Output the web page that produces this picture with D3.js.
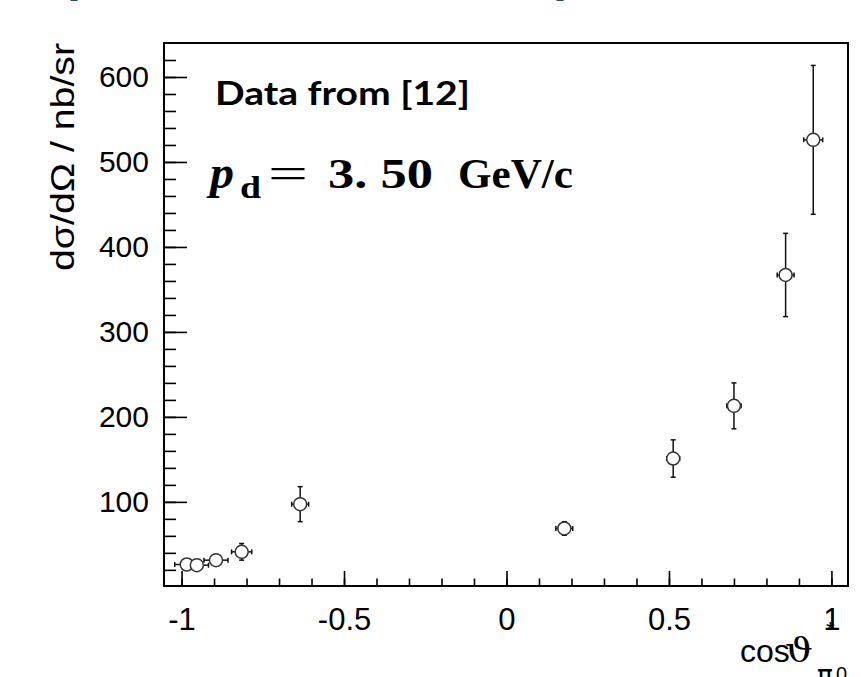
<!DOCTYPE html>
<html>
<head>
<meta charset="utf-8">
<script src="https://cdn.jsdelivr.net/npm/d3@7"></script>
<style>
  body { margin: 0; background: #fff; }
  svg { display: block; }
  .tick text { font-family: "Liberation Sans", Arial, sans-serif; }
</style>
</head>
<body>
<div id="chart"></div>
<script>
// cos(theta*) of the pi0, cross section in nb/sr, errors
const cosTheta = [-0.984, -0.953, -0.894, -0.815, -0.635, 0.178, 0.513, 0.700, 0.859, 0.944]
const xSigma   = [26.3, 25.5, 31.4, 41.2, 97.3, 68.7, 151, 213, 367, 526]
const xErrCos  = [0.037, 0.036, 0.037, 0.031, 0.026, 0.026, 0.020, 0.022, 0.026, 0.029]
const yErr     = [4, 4, 5, 9.8, 20.6, 8, 22, 27, 49, 87.6]

const xMajorTicks = [-1, -0.5, 0, 0.5, 1]
const xMinorTicks = d3.range(-10, 11).map(d => d / 10)
const yMajorTicks = [100, 200, 300, 400, 500, 600]
const yMinorTicks = d3.range(20, 640, 20)

const W = 861, H = 677
const frame = { left: 164, right: 848, top: 43, bottom: 586 }

const svg = d3.select('#chart').append('svg')
  .attr('width', W)
  .attr('height', H)

const x = d3.scaleLinear().domain([-1.054, 1.051]).range([frame.left, frame.right])
const y = d3.scaleLinear().domain([1, 640]).range([frame.bottom, frame.top])

// cut-off titles from the slide above
svg.selectAll('.cut')
  .data([55, 541])
  .enter().append('text')
  .attr('x', d => d)
  .attr('y', -7)
  .style('font-family', '"DejaVu Serif", serif')
  .style('font-style', 'italic')
  .style('font-weight', 'bold')
  .style('font-size', '40px')
  .style('fill', '#13566f')
  .text('η')

// minor ticks
svg.append('g')
  .attr('transform', `translate(0,${frame.bottom})`)
  .call(d3.axisBottom(x).tickValues(xMinorTicks).tickSize(-7.5).tickFormat(''))
  .call(g => g.select('.domain').remove())
svg.append('g')
  .attr('transform', `translate(${frame.left},0)`)
  .call(d3.axisLeft(y).tickValues(yMinorTicks).tickSize(-12).tickFormat(''))
  .call(g => g.select('.domain').remove())

// major ticks + labels
const xAxis = svg.append('g')
  .attr('transform', `translate(0,${frame.bottom})`)
  .call(d3.axisBottom(x).tickValues(xMajorTicks).tickSize(-15).tickPadding(22)
    .tickFormat(d => String(d)))
xAxis.select('.domain').remove()
xAxis.selectAll('text').style('font-size', '31px').attr('dy', '0.71em')

const yAxis = svg.append('g')
  .attr('transform', `translate(${frame.left},0)`)
  .call(d3.axisLeft(y).tickValues(yMajorTicks).tickSize(-23).tickPadding(16))
yAxis.select('.domain').remove()
yAxis.selectAll('text').style('font-size', '30px').attr('x', -15)

svg.selectAll('.tick line').attr('stroke', '#000').attr('stroke-width', 1.6)

// frame
svg.append('rect')
  .attr('x', frame.left)
  .attr('y', frame.top)
  .attr('width', frame.right - frame.left)
  .attr('height', frame.bottom - frame.top)
  .attr('fill', 'none')
  .attr('stroke', '#000')
  .attr('stroke-width', 2)

// error bars + markers
const r = 6.5
const pts = cosTheta.map((c, i) => ({ c, v: xSigma[i], ex: xErrCos[i], ey: yErr[i] }))
const gp = svg.append('g').attr('stroke', '#111').attr('stroke-width', 1.5)

pts.forEach(p => {
  const cx = x(p.c), cy = y(p.v)
  const xl = x(p.c - p.ex), xr = x(p.c + p.ex)
  const yt = y(p.v + p.ey), yb = y(p.v - p.ey)
  if (cx - xl > r) {
    gp.append('line').attr('x1', xl).attr('x2', cx - r).attr('y1', cy).attr('y2', cy)
    gp.append('line').attr('x1', cx + r).attr('x2', xr).attr('y1', cy).attr('y2', cy)
  }
  gp.append('line').attr('x1', xl).attr('x2', xl).attr('y1', cy - 2.5).attr('y2', cy + 2.5)
  gp.append('line').attr('x1', xr).attr('x2', xr).attr('y1', cy - 2.5).attr('y2', cy + 2.5)
  if (cy - yt > r) {
    gp.append('line').attr('x1', cx).attr('x2', cx).attr('y1', yt).attr('y2', cy - r)
    gp.append('line').attr('x1', cx).attr('x2', cx).attr('y1', cy + r).attr('y2', yb)
  }
  gp.append('line').attr('x1', cx - 2.5).attr('x2', cx + 2.5).attr('y1', yt).attr('y2', yt)
  gp.append('line').attr('x1', cx - 2.5).attr('x2', cx + 2.5).attr('y1', yb).attr('y2', yb)
})

svg.append('g').selectAll('circle')
  .data(pts)
  .enter().append('circle')
  .attr('cx', d => x(d.c))
  .attr('cy', d => y(d.v))
  .attr('r', r)
  .attr('fill', '#fff')
  .attr('stroke', '#333')
  .attr('stroke-width', 1.5)

// axis titles
svg.append('text')
  .attr('transform', `translate(74,${frame.top}) rotate(-90)`)
  .attr('text-anchor', 'end')
  .attr('textLength', 228)
  .attr('lengthAdjust', 'spacingAndGlyphs')
  .style('font-family', '"Liberation Sans", Arial, sans-serif')
  .style('font-size', '33px')
  .text('dσ/dΩ / nb/sr')

const sans = '"Liberation Sans", Arial, sans-serif'
svg.append('text')
  .attr('x', 740).attr('y', 662)
  .style('font-family', sans).style('font-size', '32px')
  .text('cos')
svg.append('text')
  .attr('x', 785).attr('y', 662)
  .attr('textLength', 28).attr('lengthAdjust', 'spacingAndGlyphs')
  .style('font-family', '"DejaVu Serif", serif').style('font-size', '34px')
  .text('ϑ')
svg.append('text')
  .attr('x', 826).attr('y', 637)
  .style('font-family', sans).style('font-size', '22px')
  .text('*')
svg.append('text')
  .attr('x', 817).attr('y', 684)
  .attr('textLength', 16).attr('lengthAdjust', 'spacingAndGlyphs')
  .style('font-family', '"DejaVu Sans", sans-serif').style('font-size', '26px')
  .text('π')
svg.append('text')
  .attr('x', 836).attr('y', 681)
  .style('font-family', sans).style('font-size', '20px')
  .text('0')

// annotations
svg.append('text')
  .attr('x', 215)
  .attr('y', 105)
  .attr('textLength', 255)
  .attr('lengthAdjust', 'spacingAndGlyphs')
  .style('font-family', 'Lato, "Open Sans", sans-serif')
  .style('font-weight', 'bold')
  .style('font-size', '33px')
  .text('Data from [12]')

const f = svg.append('g')
  .style('font-family', '"Liberation Serif", "DejaVu Serif", serif')
  .style('font-weight', 'bold')
f.append('text').attr('x', 210).attr('y', 188)
  .attr('textLength', 24).attr('lengthAdjust', 'spacingAndGlyphs')
  .style('font-style', 'italic').style('font-size', '46px').text('p')
f.append('text').attr('x', 240).attr('y', 198)
  .attr('textLength', 21).attr('lengthAdjust', 'spacingAndGlyphs')
  .style('font-size', '32px').text('d')
f.append('text').attr('x', 268).attr('y', 188)
  .attr('textLength', 40).attr('lengthAdjust', 'spacingAndGlyphs')
  .style('font-weight', 'normal')
  .style('font-size', '44px').text('=')
f.append('text').attr('x', 328).attr('y', 188)
  .attr('textLength', 105).attr('lengthAdjust', 'spacingAndGlyphs')
  .style('font-size', '42px').text('3. 50')
f.append('text').attr('x', 458).attr('y', 188)
  .attr('textLength', 115).attr('lengthAdjust', 'spacingAndGlyphs')
  .style('font-size', '42px').text('GeV/c')
</script>
</body>
</html>
